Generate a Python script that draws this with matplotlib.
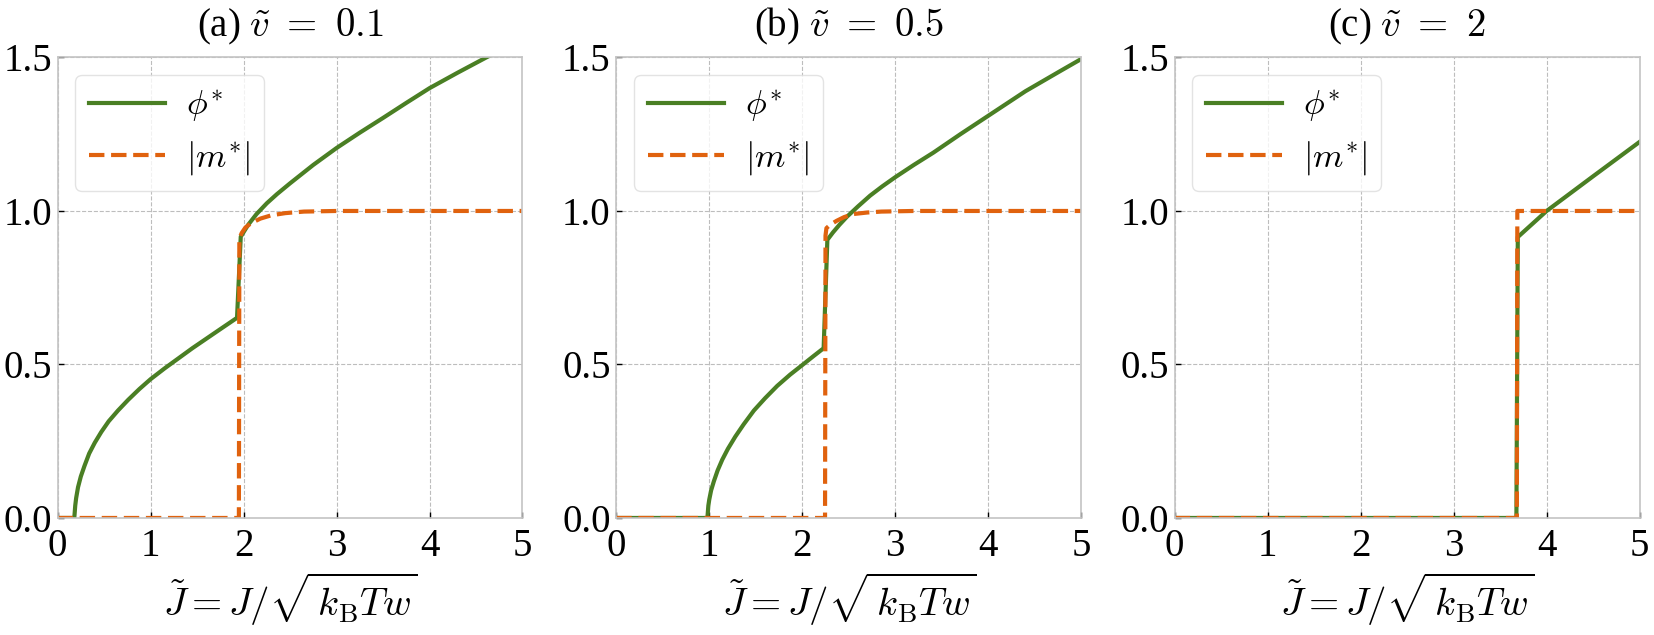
import matplotlib
matplotlib.use('Agg')
import matplotlib.pyplot as plt

plt.rcParams['font.family'] = ['Liberation Serif', 'DejaVu Serif']
plt.rcParams['mathtext.fontset'] = 'cm'

# values
titles = [r'(a) $\tilde{v}\ =\ \mathsf{0.1}$',
          r'(b) $\tilde{v}\ =\ \mathsf{0.5}$',
          r'(c) $\tilde{v}\ =\ \mathsf{2}$']

# panel (a)
J_phi_a = [0, 0.18, 0.19, 0.20, 0.22, 0.25, 0.29, 0.34, 0.40, 0.47, 0.55, 0.65,
           0.76, 0.88, 1.0, 1.15, 1.3, 1.45, 1.6, 1.75, 1.93,
           1.97, 2.05, 2.14, 2.25, 2.36, 2.5, 2.75, 3.0, 3.25, 3.5, 3.75, 4.0,
           4.3, 4.61, 5.0]
phi_a = [0, 0, 0.04, 0.065, 0.10, 0.135, 0.17, 0.21, 0.245, 0.28, 0.315, 0.35,
         0.385, 0.42, 0.452, 0.487, 0.52, 0.553, 0.584, 0.615, 0.652,
         0.916, 0.955, 0.99, 1.025, 1.055, 1.09, 1.15, 1.205, 1.255, 1.303,
         1.352, 1.40, 1.45, 1.50, 1.56]
J_m_a = [0, 1.95, 1.955, 1.98, 2.02, 2.08, 2.18, 2.30, 2.45, 2.65, 3.0, 5.0]
m_a = [0, 0, 0.91, 0.928, 0.946, 0.96, 0.975, 0.986, 0.993, 0.998, 1.0, 1.0]

# panel (b)
J_phi_b = [0, 0.98, 0.99, 1.0, 1.02, 1.05, 1.09, 1.14, 1.2, 1.28, 1.37, 1.48,
           1.6, 1.73, 1.87, 2.0, 2.12, 2.23,
           2.27, 2.33, 2.4, 2.48, 2.6, 2.73, 2.86, 3.0, 3.2, 3.41, 3.7, 4.0,
           4.4, 4.77, 5.0]
phi_b = [0, 0, 0.04, 0.06, 0.09, 0.12, 0.155, 0.19, 0.225, 0.265, 0.305, 0.35,
         0.39, 0.43, 0.467, 0.498, 0.527, 0.553,
         0.906, 0.93, 0.955, 0.981, 1.015, 1.05, 1.08, 1.11, 1.15, 1.19, 1.25,
         1.31, 1.39, 1.455, 1.495]
J_m_b = [0, 2.245, 2.25, 2.26, 2.30, 2.37, 2.45, 2.55, 2.7, 2.85, 3.2, 5.0]
m_b = [0, 0, 0.92, 0.944, 0.955, 0.968, 0.98, 0.99, 0.995, 0.998, 1.0, 1.0]

# panel (c)
J_phi_c = [0, 3.675, 3.69, 4.0, 4.5, 5.0]
phi_c = [0, 0, 0.915, 1.0, 1.113, 1.225]
J_m_c = [0, 3.68, 3.685, 5.0]
m_c = [0, 0, 1.0, 1.0]

J_phi = [J_phi_a, J_phi_b, J_phi_c]
phis = [phi_a, phi_b, phi_c]
J_m = [J_m_a, J_m_b, J_m_c]
ms = [m_a, m_b, m_c]

green = '#4a7f24'
orange = '#e0620e'

fig = plt.figure(figsize=(16.54, 6.35), dpi=100)
lefts = [0.0348, 0.3726, 0.7102]
for i in range(3):
    ax = fig.add_axes([lefts[i], 0.1843, 0.2811, 0.7252])
    ax.plot(J_phi[i], phis[i], color=green, lw=3.0, label=r'$\phi^{*}$')
    ax.plot(J_m[i], ms[i], color=orange, lw=3.0, ls='--', label=r'$|m^{*}|$')
    ax.set_xlim(0, 5)
    ax.set_ylim(0, 1.5)
    ax.set_xticks([0, 1, 2, 3, 4, 5])
    ax.set_yticks([0, 0.5, 1.0, 1.5])
    ax.set_yticklabels(['0.0', '0.5', '1.0', '1.5'])
    ax.tick_params(direction='in', length=4, width=1, labelsize=28, pad=4)
    ax.tick_params(axis='x', pad=7)
    ax.grid(True, ls='--', color='#bdbdbd', lw=0.8)
    for s in ax.spines.values():
        s.set_color('#c4c4c4')
        s.set_linewidth(1.2)
    ax.set_title(titles[i], fontsize=28, pad=15)
    ax.set_xlabel(r'$\tilde{J} = J/\sqrt{\,k_{\mathrm{B}}Tw}$', fontsize=28, labelpad=4)
    leg = ax.legend(loc='upper left', fontsize=25, handlelength=2.2,
                    handletextpad=0.6, borderaxespad=0.5, labelspacing=0.42,
                    fancybox=True, framealpha=0.8, edgecolor='#dddddd')

fig.savefig('out.png', dpi=100)
